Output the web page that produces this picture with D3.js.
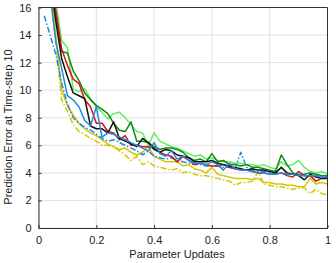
<!DOCTYPE html>
<html>
<head>
<meta charset="utf-8">
<script src="https://cdn.jsdelivr.net/npm/d3@7"></script>
<style>
  body { margin: 0; background: #fff; }
  text { font-family: "Liberation Sans", Arial, sans-serif; fill: #222; }
</style>
</head>
<body>
<div id="chart"></div>
<script>
// x positions of the samples (parameter updates, normalised)
const xs = d3.range(0.04, 1.001, 0.02).map(v => +v.toFixed(2));
const xsEarly = d3.range(0.02, 1.001, 0.02).map(v => +v.toFixed(2));

const redVals = [18, 15.8, 13.0, 11.8, 10.8, 10.5, 9.3, 8.8, 7.6, 7.6, 7.0, 6.9, 6.4, 6.7, 6.0, 6.0, 5.9, 5.9, 5.8, 5.5,
  5.3, 5.2, 4.8, 5.2, 4.9, 4.6, 4.7, 4.6, 4.5, 4.5, 4.6, 4.4, 4.3, 4.2, 4.2, 4.1, 4.0, 4.0, 3.9, 3.9,
  4.0, 3.8, 3.7, 4.1, 3.8, 3.8, 3.4, 3.6, 3.7];
const darkGreenVals = [18, 15.5, 12.8, 12.7, 11.4, 10.7, 9.8, 9.3, 8.9, 8.6, 8.3, 7.6, 7.1, 7.0, 7.7, 6.3, 6.3, 6.2, 5.9, 5.7,
  5.8, 5.8, 5.7, 5.5, 5.1, 4.9, 5.0, 4.8, 5.4, 4.8, 4.9, 4.6, 4.6, 4.5, 4.6, 4.4, 4.4, 4.3, 4.2, 4.1,
  5.3, 4.6, 4.0, 3.8, 3.9, 4.0, 3.9, 3.8, 3.8];
const lightGreenVals = [18, 16.5, 13.6, 13.1, 10.1, 9.9, 10.1, 9.4, 8.8, 8.4, 7.9, 8.3, 8.4, 8.0, 7.5, 7.0, 6.9, 6.0, 6.9, 6.3,
  6.1, 5.9, 5.8, 5.6, 5.4, 5.2, 5.3, 5.0, 5.1, 4.9, 4.8, 4.8, 4.7, 4.7, 4.6, 4.6, 4.5, 4.6, 4.4, 4.3,
  4.8, 4.5, 4.6, 4.9, 4.4, 4.1, 4.0, 4.1, 3.9];
const blackVals = [18, 15.0, 12.3, 11.0, 9.8, 9.6, 9.4, 7.4, 7.2, 7.2, 6.9, 7.7, 6.5, 6.3, 6.1, 5.9, 6.5, 6.2, 5.7, 5.5,
  5.7, 5.6, 5.3, 5.2, 5.1, 4.8, 4.8, 4.8, 4.9, 4.7, 4.6, 4.5, 4.4, 4.3, 4.2, 4.3, 4.2, 4.2, 4.1, 4.0,
  4.4, 4.0, 3.9, 3.8, 3.5, 3.9, 3.7, 3.6, 3.6];
const blueVals = [17, 13.5, 11.6, 9.6, 9.3, 8.8, 7.8, 7.4, 8.8, 6.6, 6.9, 6.8, 6.6, 6.4, 6.2, 6.0, 5.8, 5.6, 6.2, 5.4,
  5.2, 5.6, 5.0, 5.2, 4.9, 4.7, 4.7, 4.6, 4.8, 4.6, 4.2, 4.7, 4.3, 4.2, 4.2, 4.1, 4.0, 4.0, 3.9, 3.9,
  4.0, 3.9, 3.9, 3.8, 3.8, 3.8, 3.8, 3.7, 3.7];
// dash-dot blue starts one step earlier
const blueDashVals = [15.4, 14.0, 12.6, 10.5, 9.0, 8.0, 7.6, 7.3, 7.1, 6.8, 6.5, 6.3, 6.4, 6.2, 6.0, 5.8, 5.6, 5.3, 5.6, 5.2,
  5.1, 5.0, 5.1, 4.9, 4.8, 4.7, 4.6, 4.6, 4.5, 4.5, 4.5, 4.4, 4.4, 4.3, 5.5, 4.4, 4.2, 4.1, 4.1, 4.0,
  4.0, 4.0, 3.9, 3.9, 3.9, 3.8, 3.8, 3.8, 3.8, 3.7];
const yellowVals = [18, 14.0, 10.0, 8.9, 8.2, 7.6, 7.2, 6.9, 6.7, 6.4, 6.1, 5.9, 5.7, 5.8, 5.5, 5.3, 5.5, 5.9, 5.2, 5.0,
  4.8, 4.8, 4.8, 4.5, 4.6, 4.3, 4.2, 4.0, 4.4, 3.9, 3.8, 3.7, 3.6, 3.6, 3.6, 3.5, 3.6, 3.3, 3.3, 3.2,
  3.2, 3.1, 3.1, 3.0, 3.0, 3.6, 3.2, 3.3, 3.2];
const yellowDashVals = [17, 13.5, 9.3, 8.5, 7.5, 7.0, 6.8, 6.5, 6.3, 6.0, 6.0, 5.9, 5.6, 5.3, 4.9, 5.2, 4.6, 4.8, 4.5, 4.4,
  4.3, 4.2, 4.3, 4.0, 4.1, 3.9, 3.8, 3.8, 3.7, 3.6, 3.5, 3.4, 3.1, 3.3, 3.3, 3.4, 4.1, 3.2, 3.1, 3.0,
  3.0, 2.9, 2.8, 2.9, 2.9, 2.5, 2.8, 2.5, 2.4];

const xTicks = [0, 0.2, 0.4, 0.6, 0.8, 1];
const yTicks = [0, 2, 4, 6, 8, 10, 12, 14, 16];

const series = [
  { x: xs, y: yellowDashVals, color: "#d2c600", dash: "6,2,1.5,2" },
  { x: xs, y: yellowVals, color: "#d2c600", dash: null },
  { x: xsEarly, y: blueDashVals, color: "#1c8ce0", dash: "6,2,1.5,2" },
  { x: xs, y: lightGreenVals, color: "#5ef05e", dash: null },
  { x: xs, y: darkGreenVals, color: "#108a10", dash: null },
  { x: xs, y: redVals, color: "#e01010", dash: null },
  { x: xs, y: blackVals, color: "#111111", dash: null },
  { x: xs, y: blueVals, color: "#1c8ce0", dash: null }
];

const W = 336, H = 263;
const margin = { left: 38.5, right: 8.5, top: 7.5, bottom: 35 };

const svg = d3.select("#chart").append("svg").attr("width", W).attr("height", H);

const x = d3.scaleLinear().domain([0, 1]).range([margin.left, W - margin.right]);
const y = d3.scaleLinear().domain([0, 16]).range([H - margin.bottom, margin.top]);

// grid
svg.append("g").selectAll("line.gx").data(xTicks).enter().append("line")
  .attr("x1", d => x(d)).attr("x2", d => x(d))
  .attr("y1", y(0)).attr("y2", y(16))
  .attr("stroke", "#e2e2e2").attr("stroke-width", 1);
svg.append("g").selectAll("line.gy").data(yTicks).enter().append("line")
  .attr("x1", x(0)).attr("x2", x(1))
  .attr("y1", d => y(d)).attr("y2", d => y(d))
  .attr("stroke", "#e2e2e2").attr("stroke-width", 1);

// lines
svg.append("defs").append("clipPath").attr("id", "clip")
  .append("rect").attr("x", x(0)).attr("y", y(16)).attr("width", x(1) - x(0)).attr("height", y(0) - y(16));

const line = d3.line().x(d => x(d[0])).y(d => y(d[1]));
svg.append("g").attr("clip-path", "url(#clip)")
  .selectAll("path").data(series).enter().append("path")
  .attr("d", s => line(s.y.map((v, i) => [s.x[i], v])))
  .attr("fill", "none")
  .attr("stroke", s => s.color)
  .attr("stroke-width", 1.5)
  .attr("stroke-linejoin", "round")
  .attr("stroke-dasharray", s => s.dash);

// axes (ticks inside, box around)
const xAxis = d3.axisBottom(x).tickValues(xTicks).tickFormat(d3.format("")).tickSizeInner(-3).tickSizeOuter(0).tickPadding(8);
const yAxis = d3.axisLeft(y).tickValues(yTicks).tickSizeInner(-3).tickSizeOuter(0).tickPadding(7);

const gx = svg.append("g").attr("transform", "translate(0," + y(0) + ")").call(xAxis);
const gy = svg.append("g").attr("transform", "translate(" + x(0) + ",0)").call(yAxis);
[gx, gy].forEach(g => {
  g.selectAll("path").attr("stroke", "#333");
  g.selectAll("line").attr("stroke", "#333");
  g.selectAll("text").style("font-size", "11px").attr("fill", "#222");
});
svg.append("line").attr("x1", x(0)).attr("x2", x(1)).attr("y1", y(16)).attr("y2", y(16)).attr("stroke", "#333");
svg.append("line").attr("x1", x(1)).attr("x2", x(1)).attr("y1", y(0)).attr("y2", y(16)).attr("stroke", "#333");

// labels
svg.append("text").attr("x", 177).attr("y", 258)
  .attr("text-anchor", "middle").style("font-size", "11px").text("Parameter Updates");
svg.append("text").attr("transform", "translate(12,127) rotate(-90)")
  .attr("text-anchor", "middle").style("font-size", "11px").text("Prediction Error at Time-step 10");
</script>
</body>
</html>
